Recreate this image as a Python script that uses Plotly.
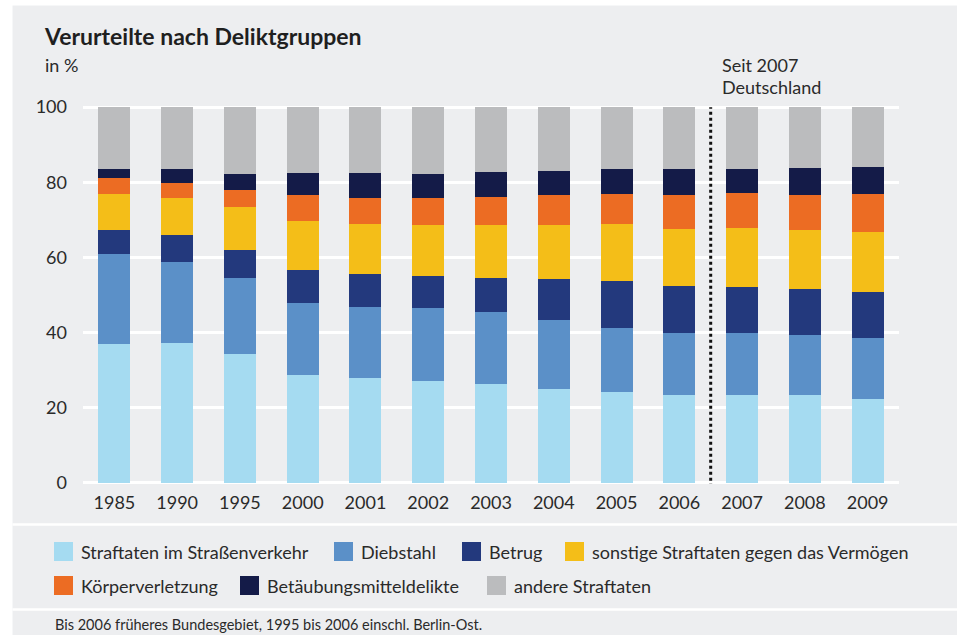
import plotly.graph_objects as go

# ---- data ----
years = ["1985", "1990", "1995", "2000", "2001", "2002", "2003",
         "2004", "2005", "2006", "2007", "2008", "2009"]
strassenverkehr = [37.0, 37.3, 34.4, 28.6, 28.0, 27.2, 26.2, 25.1, 24.1, 23.3, 23.3, 23.3, 22.2]
diebstahl = [23.8, 21.4, 20.1, 19.3, 18.8, 19.4, 19.3, 18.3, 17.2, 16.7, 16.7, 16.1, 16.4]
betrug = [6.4, 7.2, 7.4, 8.7, 8.8, 8.4, 9.0, 10.8, 12.4, 12.4, 12.1, 12.2, 12.2]
sonstige_vermoegen = [9.8, 9.8, 11.6, 13.2, 13.4, 13.5, 14.0, 14.3, 15.1, 15.1, 15.6, 15.6, 16.1]
koerperverletzung = [4.2, 4.2, 4.5, 6.7, 6.9, 7.4, 7.7, 8.0, 8.2, 9.0, 9.5, 9.5, 10.1]
betaeubungsmittel = [2.4, 3.7, 4.3, 6.0, 6.6, 6.4, 6.6, 6.6, 6.6, 7.1, 6.4, 7.2, 7.1]
andere = [16.4, 16.4, 17.7, 17.5, 17.5, 17.7, 17.2, 16.9, 16.4, 16.4, 16.4, 16.1, 15.9]

series_names = ["Straftaten im Straßenverkehr", "Diebstahl", "Betrug",
                "sonstige Straftaten gegen das Vermögen", "Körperverletzung",
                "Betäubungsmitteldelikte", "andere Straftaten"]
series_values = [strassenverkehr, diebstahl, betrug, sonstige_vermoegen,
                 koerperverletzung, betaeubungsmittel, andere]
y_ticks = [0, 20, 40, 60, 80, 100]

title_text = "Verurteilte nach Deliktgruppen"
unit_text = "in %"
note_lines = ["Seit 2007", "Deutschland"]
footnote_text = "Bis 2006 früheres Bundesgebiet, 1995 bis 2006 einschl. Berlin-Ost."

# ---- style ----
colors = ["#a5dbf1", "#5b90c8", "#23397d", "#f4be18", "#ec6c23", "#141b48", "#bbbcbe"]
BG = "#edeef0"
TXT = "#2a2a2a"
FONT = "Lato"

W, H = 957, 635
L, R, T, B = 83, 899, 106, 484  # plot area in pixels


def px(xp):
    return (xp - L) / (R - L)


def py(yp):
    return (B - yp) / (B - T)


fig = go.Figure()
for name, vals, col in zip(series_names, series_values, colors):
    fig.add_trace(go.Bar(x=years, y=vals, name=name, marker=dict(color=col, line=dict(width=0)),
                         width=0.51, showlegend=False))

shapes = []
# white page border strips (left / top)
shapes.append(dict(type="rect", xref="paper", yref="paper", x0=px(-2), x1=px(12.5), y0=py(H + 2), y1=py(-2),
                   fillcolor="white", line=dict(width=0), layer="below"))
shapes.append(dict(type="rect", xref="paper", yref="paper", x0=px(-2), x1=px(W + 2), y0=py(5.5), y1=py(-2),
                   fillcolor="white", line=dict(width=0), layer="below"))
# separators
for yy in (524.5, 609.5):
    shapes.append(dict(type="line", xref="paper", yref="paper", x0=px(12.5), x1=px(W + 2), y0=py(yy), y1=py(yy),
                       line=dict(color="white", width=2.5), layer="below"))
# dotted divider between 2006 and 2007
shapes.append(dict(type="line", xref="x", yref="y", x0=9.5, x1=9.5, y0=-4.2, y1=100,
                   line=dict(color="#111111", width=3, dash="dot")))

annotations = []
annotations.append(dict(text="<b>" + title_text + "</b>", x=px(42), y=py(36), xref="paper", yref="paper",
                        xanchor="left", yanchor="middle", showarrow=False,
                        font=dict(family=FONT, size=23, color="#1f1f1f")))
annotations.append(dict(text=unit_text, x=px(43), y=py(65), xref="paper", yref="paper",
                        xanchor="left", yanchor="middle", showarrow=False,
                        font=dict(family=FONT, size=18, color=TXT)))
for line_txt, yc in zip(note_lines, (65, 87)):
    annotations.append(dict(text=line_txt, x=px(720), y=py(yc), xref="paper", yref="paper",
                            xanchor="left", yanchor="middle", showarrow=False,
                            font=dict(family=FONT, size=18, color=TXT)))

# manual legend (large square swatches)
legend_pos = [(54, 551.5), (334, 551.5), (462, 551.5), (565, 551.5),
              (54, 585.5), (240, 585.5), (487, 585.5)]
for name, col, (lx, ly) in zip(series_names, colors, legend_pos):
    shapes.append(dict(type="rect", xref="paper", yref="paper", x0=px(lx), x1=px(lx + 19),
                       y0=py(ly + 9.5), y1=py(ly - 9.5), fillcolor=col, line=dict(width=0)))
    annotations.append(dict(text=name, x=px(lx + 25), y=py(ly), xref="paper", yref="paper",
                            xanchor="left", yanchor="middle", showarrow=False,
                            font=dict(family=FONT, size=18, color=TXT)))

annotations.append(dict(text=footnote_text, x=px(53), y=py(624), xref="paper", yref="paper",
                        xanchor="left", yanchor="middle", showarrow=False,
                        font=dict(family=FONT, size=14.5, color=TXT)))

fig.update_layout(
    width=W, height=H,
    margin=dict(l=L, r=W - R, t=T, b=H - B, pad=0),
    paper_bgcolor=BG, plot_bgcolor=BG,
    barmode="stack",
    shapes=shapes, annotations=annotations,
    font=dict(family=FONT, size=18, color=TXT),
    xaxis=dict(type="category", range=[-0.5, 12.5], showgrid=False, zeroline=False,
               showline=False, ticks="outside", ticklen=2, tickcolor=BG,
               tickfont=dict(family=FONT, size=18, color=TXT), fixedrange=True),
    yaxis=dict(range=[-0.3, 100.3], tickvals=y_ticks, showgrid=True, gridcolor="white", gridwidth=2.5,
               zeroline=False, showline=False, ticks="", ticklabelstandoff=15,
               tickfont=dict(family=FONT, size=18, color=TXT), fixedrange=True),
    bargap=0.49,
)

fig.write_html(
    "out.html",
    config={"displayModeBar": False},
    post_script="document.body.style.margin='0px';document.body.style.overflow='hidden';",
)
